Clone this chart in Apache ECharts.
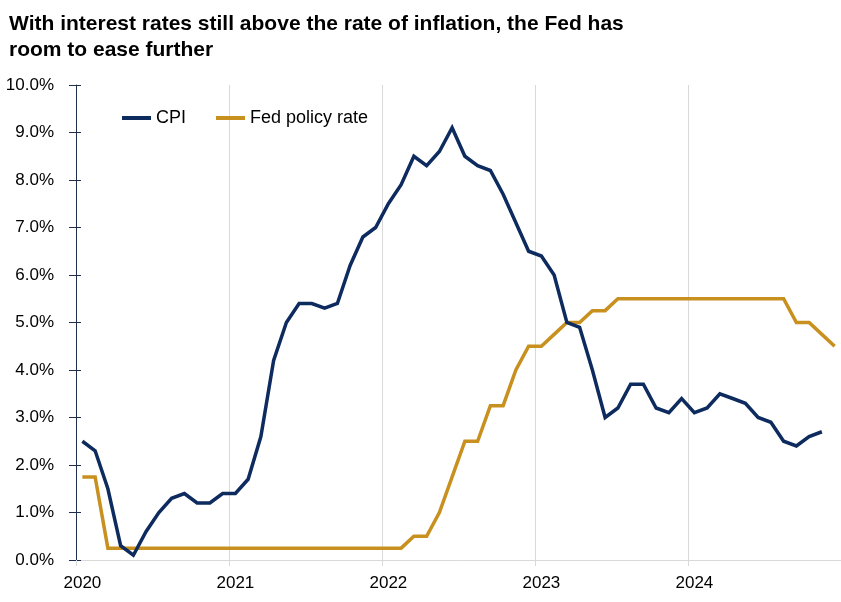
<!DOCTYPE html>
<html>
<head>
<meta charset="utf-8">
<script src="https://cdn.jsdelivr.net/npm/echarts@6/dist/echarts.min.js"></script>
<style>
html,body{margin:0;padding:0;background:#fff;}
#chart{width:841px;height:602px;}
</style>
</head>
<body>
<div id="chart"></div>
<script>
// Year tick labels (January of each year)
var years = ['2020', '2021', '2022', '2023', '2024'];
var monthsPerYear = 12;

// CPI, year-over-year %, Jan 2020 .. Nov 2024
var cpi = [
  2.5, 2.3, 1.5, 0.3, 0.1, 0.6, 1.0, 1.3, 1.4, 1.2, 1.2, 1.4,
  1.4, 1.7, 2.6, 4.2, 5.0, 5.4, 5.4, 5.3, 5.4, 6.2, 6.8, 7.0,
  7.5, 7.9, 8.5, 8.3, 8.6, 9.1, 8.5, 8.3, 8.2, 7.7, 7.1, 6.5,
  6.4, 6.0, 5.0, 4.9, 4.0, 3.0, 3.2, 3.7, 3.7, 3.2, 3.1, 3.4,
  3.1, 3.2, 3.5, 3.4, 3.3, 3.0, 2.9, 2.5, 2.4, 2.6, 2.7
];

// Fed policy rate (upper bound), %, Jan 2020 .. Dec 2024
var fedRate = [
  1.75, 1.75, 0.25, 0.25, 0.25, 0.25, 0.25, 0.25, 0.25, 0.25, 0.25, 0.25,
  0.25, 0.25, 0.25, 0.25, 0.25, 0.25, 0.25, 0.25, 0.25, 0.25, 0.25, 0.25,
  0.25, 0.25, 0.50, 0.50, 1.00, 1.75, 2.50, 2.50, 3.25, 3.25, 4.00, 4.50,
  4.50, 4.75, 5.00, 5.00, 5.25, 5.25, 5.50, 5.50, 5.50, 5.50, 5.50, 5.50,
  5.50, 5.50, 5.50, 5.50, 5.50, 5.50, 5.50, 5.50, 5.00, 5.00, 4.75, 4.50
];

var titleText = 'With interest rates still above the rate of inflation, the Fed has\nroom to ease further';
var seriesNames = ['CPI', 'Fed policy rate'];

// month categories
var months = [];
for (var y = 0; y < years.length; y++) {
  for (var m = 1; m <= monthsPerYear; m++) {
    months.push(years[y] + '-' + (m < 10 ? '0' + m : m));
  }
}

var navy = '#0d2b5e';
var gold = '#c8901e';
var axisFont = 'Liberation Sans, Arial, sans-serif';

var chart = echarts.init(document.getElementById('chart'), null, {renderer: 'canvas'});
chart.setOption({
  animation: false,
  backgroundColor: '#ffffff',
  title: {
    text: titleText,
    left: 4,
    top: 6,
    textStyle: {
      fontFamily: 'Liberation Sans, Arial, sans-serif',
      fontWeight: 'bold',
      fontSize: 21,
      lineHeight: 26,
      color: '#000000'
    }
  },
  legend: {
    left: 117,
    top: 104,
    icon: 'rect',
    itemWidth: 29,
    itemHeight: 4,
    itemGap: 30,
    textStyle: {fontFamily: axisFont, fontSize: 18, color: '#000'},
    data: seriesNames
  },
  grid: {left: 76, right: 0, top: 85, bottom: 42, containLabel: false},
  xAxis: {
    type: 'category',
    data: months,
    boundaryGap: true,
    axisLine: {show: true, lineStyle: {color: '#d9d9d9', width: 1}},
    axisTick: {show: true, interval: 11, length: 6, lineStyle: {color: '#d9d9d9'}},
    splitLine: {show: true, interval: 11, showMaxLine: false, lineStyle: {color: '#d9d9d9', width: 1}},
    axisLabel: {
      interval: 11,
      margin: 15,
      fontFamily: axisFont,
      fontSize: 17,
      color: '#000',
      formatter: function (v) { return v.slice(0, 4); }
    }
  },
  yAxis: [{
    type: 'value',
    min: 0,
    max: 10,
    interval: 1,
    axisLine: {show: true, lineStyle: {color: '#1f2f4f', width: 1}},
    axisTick: {show: true, length: 7, lineStyle: {color: '#1f2f4f'}},
    splitLine: {show: false},
    axisLabel: {
      margin: 22,
      fontFamily: axisFont,
      fontSize: 17,
      color: '#000',
      formatter: function (v) { return v.toFixed(1) + '%'; }
    }
  }, {
    type: 'value',
    position: 'left',
    min: 0,
    max: 10,
    interval: 1,
    axisLine: {show: false},
    axisTick: {show: true, inside: true, length: 5, lineStyle: {color: '#1f2f4f'}},
    splitLine: {show: false},
    axisLabel: {show: false}
  }],
  series: [{
    name: seriesNames[0],
    type: 'line',
    data: cpi,
    symbol: 'none',
    lineStyle: {color: navy, width: 3.5, join: 'miter'},
    itemStyle: {color: navy},
    z: 3
  }, {
    name: seriesNames[1],
    type: 'line',
    data: fedRate,
    symbol: 'none',
    lineStyle: {color: gold, width: 3.5, join: 'miter'},
    itemStyle: {color: gold},
    z: 2
  }]
});
</script>
</body>
</html>
